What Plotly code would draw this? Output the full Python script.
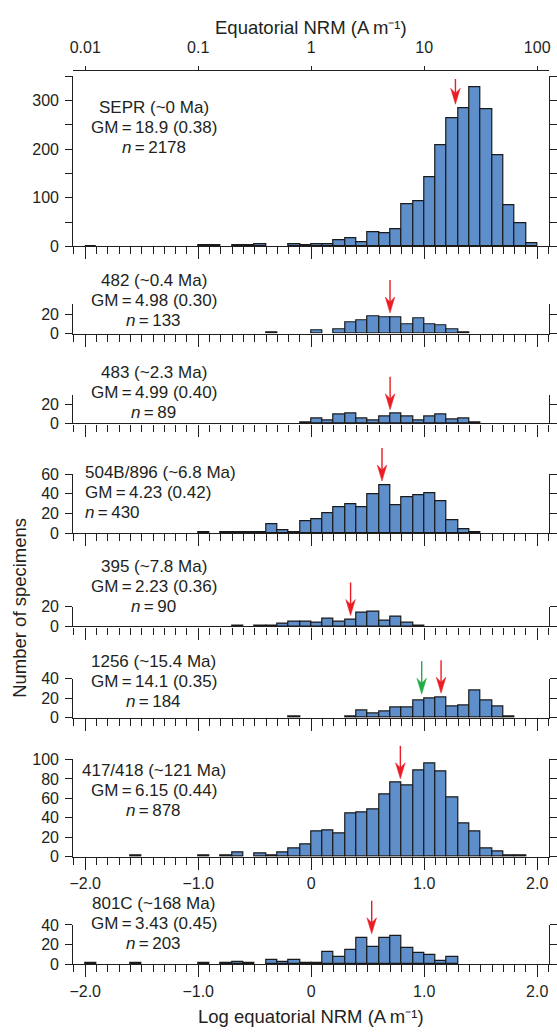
import math
import plotly.graph_objects as go

W, H = 557, 1035

# Histogram bins: left edges in log10(NRM / A m^-1), 0.1 wide
bin_left = [-2.0, -1.9, -1.8, -1.7, -1.6, -1.5, -1.4, -1.3, -1.2, -1.1,
            -1.0, -0.9, -0.8, -0.7, -0.6, -0.5, -0.4, -0.3, -0.2, -0.1,
            0.0, 0.1, 0.2, 0.3, 0.4, 0.5, 0.6, 0.7, 0.8, 0.9,
            1.0, 1.1, 1.2, 1.3, 1.4, 1.5, 1.6, 1.7, 1.8, 1.9]
BIN_W = 0.1

# Specimen counts per bin for each site
counts_sepr = [1, 0, 0, 0, 0, 0, 0, 0, 0, 0,
               3, 3, 0, 3, 3, 5, 0, 0, 5, 3,
               5, 5, 13, 16, 8, 30, 27, 35, 87, 92,
               143, 208, 263, 284, 328, 282, 187, 84, 48, 7]
counts_482 = [0, 0, 0, 0, 0, 0, 0, 0, 0, 0,
              0, 0, 0, 0, 0, 0, 1, 0, 0, 0,
              3, 0, 4, 12, 14, 18, 17, 17, 9, 16,
              9, 8, 4, 1, 0, 0, 0, 0, 0, 0]
counts_483 = [0, 0, 0, 0, 0, 0, 0, 0, 0, 0,
              0, 0, 0, 0, 0, 0, 0, 0, 0, 1,
              5, 3, 9, 10, 5, 3, 7, 10, 7, 3,
              7, 9, 4, 5, 1, 0, 0, 0, 0, 0]
counts_504b = [0, 0, 0, 0, 0, 0, 0, 0, 0, 0,
               1, 0, 1, 1, 1, 1, 9, 3, 1, 12,
               14, 20, 26, 29, 26, 40, 49, 28, 37, 39,
               41, 33, 13, 4, 1, 0, 0, 0, 0, 0]
counts_395 = [0, 0, 0, 0, 0, 0, 0, 0, 0, 0,
              0, 0, 0, 1, 0, 1, 1, 3, 5, 5,
              4, 8, 5, 7, 14, 15, 6, 10, 4, 1,
              0, 0, 0, 0, 0, 0, 0, 0, 0, 0]
counts_1256 = [0, 0, 0, 0, 0, 0, 0, 0, 0, 0,
               0, 0, 0, 0, 0, 0, 0, 0, 1, 0,
               0, 0, 0, 1, 7, 4, 6, 11, 11, 18,
               20, 21, 12, 13, 28, 18, 12, 1, 0, 0]
counts_417 = [0, 0, 0, 0, 1, 0, 0, 0, 0, 0,
              1, 0, 1, 4, 0, 3, 1, 4, 9, 13,
              26, 27, 24, 45, 46, 49, 64, 76, 73, 89,
              96, 88, 61, 34, 26, 9, 6, 1, 1, 0]
counts_801c = [1, 0, 0, 0, 1, 0, 0, 0, 0, 0,
               1, 0, 1, 2, 1, 0, 4, 2, 4, 1,
               1, 13, 7, 15, 27, 18, 27, 29, 17, 12,
               9, 3, 7, 0, 0, 0, 0, 0, 0, 0]

site_names = ["SEPR", "482", "483", "504B/896", "395", "1256", "417/418", "801C"]
site_ages = ["~0", "~0.4", "~2.3", "~6.8", "~7.8", "~15.4", "~121", "~168"]
gm_values = [18.9, 4.98, 4.99, 4.23, 2.23, 14.1, 6.15, 3.43]
gm_sigma = ["0.38", "0.30", "0.40", "0.42", "0.36", "0.35", "0.44", "0.45"]
n_specimens = [2178, 133, 89, 430, 90, 184, 878, 203]
second_mean_1256 = 9.5

y_max = [350, 30, 30, 60, 20, 40, 100, 40]
y_tickvals = [[0, 100, 200, 300], [0, 20], [0, 20], [0, 20, 40, 60], [0, 20],
              [0, 20, 40], [0, 20, 40, 60, 80, 100], [0, 20, 40]]
y_minor_step = [50, None, None, None, None, None, None, None]

all_counts = [counts_sepr, counts_482, counts_483, counts_504b,
              counts_395, counts_1256, counts_417, counts_801c]

# ---- page geometry (pixels) ----
PLOT_L, PLOT_R = 70.0, 550.0
panel_px = [(69.3, 242.3), (301.3, 331.0), (393.0, 422.3), (474.0, 534.0),
            (608.7, 628.7), (681.7, 721.7), (764.0, 863.0), (932.3, 972.3)]
TOP_AXIS_PX = 62.7
text_px = [(151, 101.5, "center"), (151, 277.0, "center"), (151, 370.5, "center"),
           (80, 472.5, "left"), (151, 567.5, "center"), (151, 664.0, "center"),
           (151, 775.0, "center"), (151, 910.5, "center")]
LINE_STEP = 20.3

FONT = "Liberation Sans, Arial, Helvetica, sans-serif"
INK = "#231f20"
BAR_FILL = "#5f8fcb"
RED = "#ec1c24"
GREEN = "#1fae45"
X_RANGE = [-2.105, 2.105]
UNIT = "A\u2009m\u207b\u00b9"


def px_x(p):
    return p / W


def px_y(p):
    return 1 - p / H


fig = go.Figure()
layout = dict(
    width=W, height=H, margin=dict(l=0, r=0, t=0, b=0),
    paper_bgcolor="white", plot_bgcolor="white", showlegend=False,
    font=dict(family=FONT, size=16, color=INK), bargap=0,
)
annotations = []
shapes = []

for k, counts in enumerate(all_counts):
    xid = "x" if k == 0 else f"x{k + 1}"
    yid = "y" if k == 0 else f"y{k + 1}"
    xkey = "xaxis" if k == 0 else f"xaxis{k + 1}"
    ykey = "yaxis" if k == 0 else f"yaxis{k + 1}"
    top, bot = panel_px[k]

    xs = [b + BIN_W / 2 for b, c in zip(bin_left, counts) if c > 0]
    ys = [c for c in counts if c > 0]
    fig.add_trace(go.Bar(
        x=xs, y=ys, width=BIN_W, xaxis=xid, yaxis=yid,
        marker=dict(color=BAR_FILL, line=dict(color="#1a1a1a", width=1.2)),
        hoverinfo="skip",
    ))

    show_x_labels = k >= 6
    layout[xkey] = dict(
        domain=[px_x(PLOT_L), px_x(PLOT_R)], anchor=yid, range=X_RANGE,
        showline=True, linecolor=INK, linewidth=1.3, showgrid=False, zeroline=False,
        ticks="outside", ticklen=12, tickwidth=1.3, tickcolor=INK,
        tickvals=[-2, -1, 0, 1, 2],
        ticktext=["\u22122.0", "\u22121.0", "0", "1.0", "2.0"],
        showticklabels=show_x_labels, tickfont=dict(size=16),
        minor=dict(ticks="outside", dtick=0.1, tick0=0, ticklen=7,
                   tickwidth=1.3, tickcolor=INK, showgrid=False),
    )
    if k > 0:
        layout[xkey]["matches"] = "x"
    yax = dict(
        domain=[px_y(bot), px_y(top)], anchor=xid, range=[0, y_max[k]],
        showline=True, linecolor=INK, linewidth=1.3, mirror="ticks",
        showgrid=False, zeroline=False,
        ticks="outside", ticklen=7, tickwidth=1.3, tickcolor=INK,
        tickvals=y_tickvals[k], tickfont=dict(size=16), ticklabelstandoff=3,
    )
    if y_minor_step[k]:
        yax["minor"] = dict(ticks="outside", dtick=y_minor_step[k], tick0=0,
                            ticklen=7, tickwidth=1.3, tickcolor=INK, showgrid=False)
    layout[ykey] = yax

    # site label block
    tx, ty, align = text_px[k]
    lines = [
        f"{site_names[k]} ({site_ages[k]} Ma)",
        f"GM\u2009=\u2009{gm_values[k]:g} ({gm_sigma[k]})",
        f"<i>n</i>\u2009=\u2009{n_specimens[k]}",
    ]
    for j, line in enumerate(lines):
        annotations.append(dict(
            xref="paper", yref="paper", x=px_x(tx), y=px_y(ty + j * LINE_STEP),
            xanchor=align, yanchor="middle", text=line, showarrow=False,
            font=dict(size=17, color=INK),
        ))

    # geometric-mean arrows, pointing down onto the histogram
    means = [(gm_values[k], RED)]
    if site_names[k] == "1256":
        means.insert(0, (second_mean_1256, GREEN))
    for gm, color in means:
        xv = math.log10(gm)
        i = int((xv - bin_left[0]) / BIN_W + 1e-9)
        frac = (xv - bin_left[i]) / BIN_W
        j = i + 1 if frac >= 0.5 else i - 1
        bar_top = max(counts[i], counts[j])
        gap = 4
        tip_px = bot - (bot - top) * bar_top / y_max[k] - gap
        length = min(33, tip_px - TOP_AXIS_PX - 10)
        common = dict(xref=xid, yref=f"{yid} domain", xsizemode="pixel",
                      ysizemode="pixel", xanchor=xv, yanchor=bar_top / y_max[k],
                      layer="above")
        shapes.append(dict(
            type="path", **common,
            path=f"M0,{gap + 10} L0,{gap + length}",
            line=dict(color=color, width=1.4),
        ))
        shapes.append(dict(
            type="path", **common,
            path=(f"M0,{gap} L-4.8,{gap + 16} L0,{gap + 11} "
                  f"L4.8,{gap + 16} Z"),
            fillcolor=color, line=dict(color=color, width=0.5),
        ))

# top axis in linear NRM units
fig.add_trace(go.Scatter(x=[1], y=[0], xaxis="x9", yaxis="y", mode="markers",
                         marker=dict(opacity=0), hoverinfo="skip"))
layout["xaxis9"] = dict(
    type="log", range=X_RANGE, overlaying="x", anchor="free",
    position=px_y(TOP_AXIS_PX), side="top",
    showline=True, linecolor=INK, linewidth=1.3, showgrid=False, zeroline=False,
    ticks="outside", ticklen=4, tickwidth=1.3, tickcolor=INK,
    tickvals=[0.01, 0.1, 1, 10, 100], ticktext=["0.01", "0.1", "1", "10", "100"],
    tickfont=dict(size=16), ticklabelstandoff=6,
)

mid_x = px_x((PLOT_L + PLOT_R) / 2)
annotations += [
    dict(xref="paper", yref="paper", x=mid_x, y=px_y(20), xanchor="center",
         yanchor="middle", showarrow=False, font=dict(size=18.5, color=INK),
         text=f"Equatorial NRM ({UNIT})"),
    dict(xref="paper", yref="paper", x=mid_x, y=px_y(1025), xanchor="center",
         yanchor="middle", showarrow=False, font=dict(size=18.5, color=INK),
         text=f"Log equatorial NRM ({UNIT})"),
    dict(xref="paper", yref="paper", x=px_x(16), y=px_y(610), xanchor="center",
         yanchor="middle", showarrow=False, textangle=-90,
         font=dict(size=18.5, color=INK), text="Number of specimens"),
]
layout["annotations"] = annotations
layout["shapes"] = shapes
fig.update_layout(**layout)
fig.write_html("out.html")
